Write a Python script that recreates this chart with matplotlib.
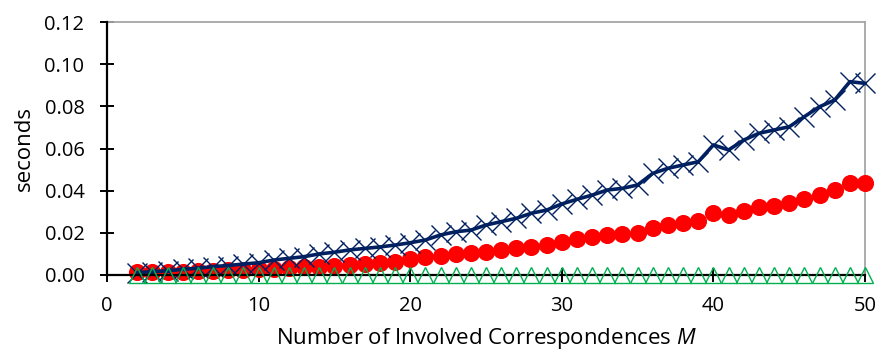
import matplotlib
matplotlib.use("Agg")
import matplotlib.pyplot as plt

plt.rcParams['font.family'] = ['Open Sans', 'DejaVu Sans']
plt.rcParams['mathtext.fontset'] = 'custom'
plt.rcParams['mathtext.rm'] = 'Open Sans'
plt.rcParams['mathtext.it'] = 'Open Sans:italic'

M = list(range(2, 51))
series_x = [0.0011, 0.0016, 0.0020, 0.0027, 0.0032, 0.0040, 0.0045, 0.0052, 0.0058, 0.0071,
            0.0079, 0.0087, 0.0100, 0.0108, 0.0119, 0.0126, 0.0133, 0.0142, 0.0153, 0.0166,
            0.0190, 0.0205, 0.0213, 0.0237, 0.0253, 0.0269, 0.0293, 0.0308, 0.0337, 0.0359,
            0.0379, 0.0403, 0.0411, 0.0427, 0.0482, 0.0506, 0.0522, 0.0537, 0.0617, 0.0593,
            0.0640, 0.0672, 0.0688, 0.0703, 0.0751, 0.0798, 0.0830, 0.0917, 0.0909]
series_circle = [0.0015, 0.0012, 0.0013, 0.0015, 0.0017, 0.0019, 0.0022, 0.0024, 0.0027, 0.0030,
                 0.0033, 0.0037, 0.0040, 0.0045, 0.0049, 0.0053, 0.0057, 0.0063, 0.0074, 0.0084,
                 0.0090, 0.0100, 0.0103, 0.0111, 0.0119, 0.0127, 0.0134, 0.0142, 0.0158, 0.0169,
                 0.0179, 0.0190, 0.0195, 0.0201, 0.0221, 0.0235, 0.0248, 0.0258, 0.0296, 0.0285,
                 0.0305, 0.0324, 0.0329, 0.0340, 0.0360, 0.0379, 0.0403, 0.0438, 0.0438]
series_tri = [0.0001] * 49

x_ticks = [0, 10, 20, 30, 40, 50]
y_ticks = [0.00, 0.02, 0.04, 0.06, 0.08, 0.10, 0.12]

fig = plt.figure(figsize=(8.79, 3.57), dpi=100)
ax = fig.add_axes([107/879, 82/357, (865-107)/879, (275-22)/357])

ax.plot(M, series_circle, linestyle='none', marker='o', markersize=11.3,
        color='#FF0000', zorder=3, clip_on=False)
ax.plot(M, series_x, color='#002060', linewidth=2.6, marker='x', markersize=14,
        markeredgewidth=1.0, zorder=4, clip_on=False)
ax.plot(M, series_tri, linestyle='none', marker='^', markersize=11.5,
        markerfacecolor='none', markeredgecolor='#00B050', markeredgewidth=1.0,
        zorder=5, clip_on=False)

ax.set_xlim(0, 50)
ax.set_ylim(0, 0.12)
ax.set_xticks(x_ticks)
ax.set_yticks(y_ticks)
ax.set_yticklabels([f"{v:.2f}" for v in y_ticks])

for s in ['left', 'bottom']:
    ax.spines[s].set_color('black')
    ax.spines[s].set_linewidth(1.6)
    ax.spines[s].set_zorder(4.5)
for s in ['top', 'right']:
    ax.spines[s].set_color('#A6A6A6')
    ax.spines[s].set_linewidth(1.3)

ax.tick_params(axis='both', direction='inout', length=10.5, width=1.4, color='black',
               labelsize=14.5)
ax.tick_params(axis='y', pad=11)
ax.tick_params(axis='x', pad=10)

ax.set_xlabel('Number of Involved Correspondences $M$', fontsize=16, labelpad=7)
ax.set_ylabel('seconds', fontsize=16, labelpad=7)

fig.savefig('out.png', dpi=100)
